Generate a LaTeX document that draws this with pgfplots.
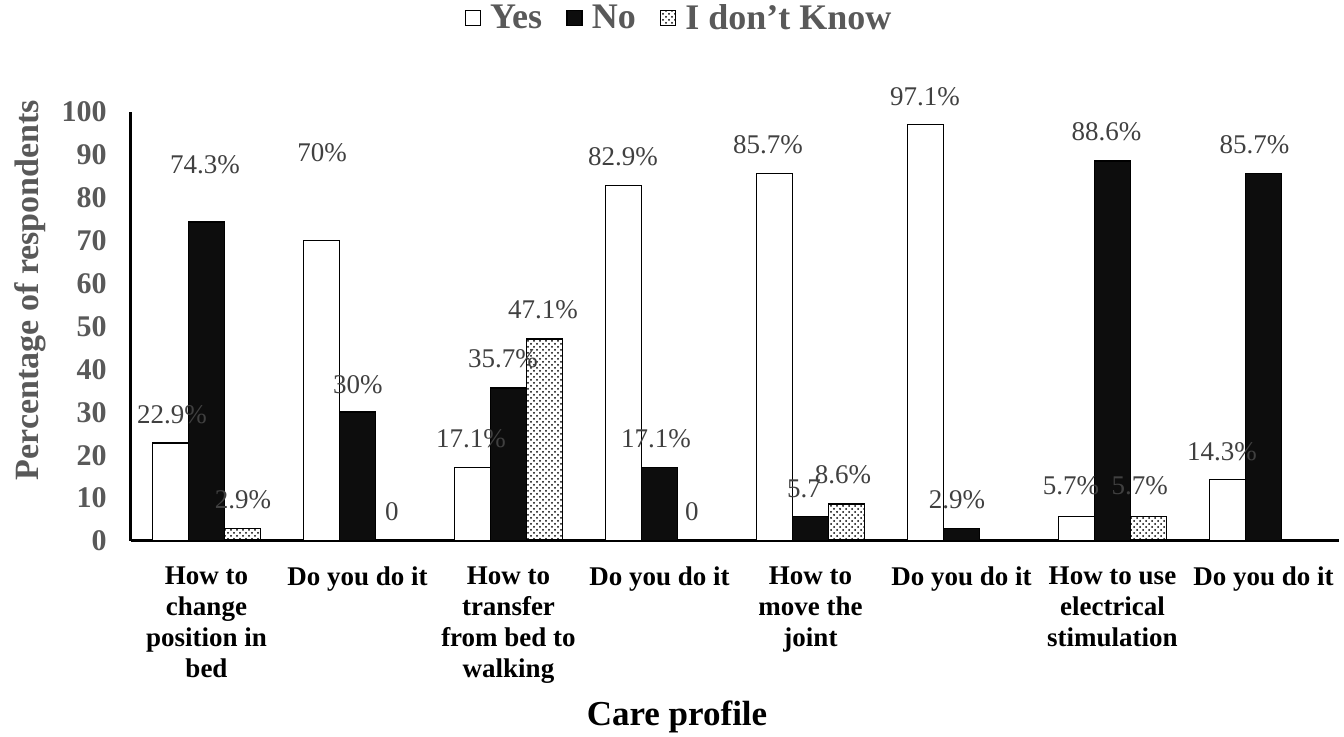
\documentclass[border=0pt]{standalone}
\usepackage{pgfplots}
\pgfplotsset{compat=1.18}
\usepackage{fontspec}
\setmainfont{Liberation Serif}
\usetikzlibrary{patterns}
\definecolor{txtgray}{HTML}{595959}
\definecolor{lblgray}{HTML}{404040}
\definecolor{barblack}{HTML}{0D0D0D}
\begin{document}
\begin{tikzpicture}
\path[use as bounding box] (-65.5pt,-98pt) rectangle (606.5pt,270.5pt);
\begin{axis}[
  at={(0pt,0pt)}, anchor=south west,
  scale only axis,
  width=604pt, height=214.5pt,
  xmin=-0.5, xmax=7.5,
  ymin=0, ymax=100,
  ytick={0,10,...,100},
  xtick={0,...,7},
  xticklabels={How to\\change\\position in\\bed, Do you do it, How to\\transfer\\from bed to\\walking, Do you do it, How to\\move the\\joint, Do you do it, How to use\\electrical\\stimulation, Do you do it},
  axis x line*=bottom,
  axis y line*=left,
  axis line style={line width=1.5pt, -},
  major tick length=0pt,
  clip=false,
  /pgf/number format/assume math mode=true,
  xticklabel style={align=center, font=\bfseries\fontsize{13.5}{15.5}\selectfont, text=black, anchor=north, inner sep=0pt, yshift=-12.5pt},
  yticklabel style={font=\bfseries\fontsize{15}{16}\selectfont, text=txtgray, anchor=east, inner sep=0pt, xshift=-12pt},
  ylabel={Percentage of respondents},
  ylabel style={font=\bfseries\fontsize{17}{19}\selectfont, text=txtgray, at={(axis description cs:-0.0836,0.585)}, anchor=center},
  xlabel={Care profile},
  xlabel style={font=\bfseries\fontsize{17.5}{19}\selectfont, text=black, at={(axis description cs:0.452,-0.41)}, anchor=center},
  legend columns=3,
  legend style={draw=none, fill=none, at={(axis description cs:0.4545,1.219)}, anchor=center,
    font=\bfseries\fontsize{18}{20}\selectfont, text=txtgray,
    /tikz/every odd column/.append style={column sep=2.5pt},
    /tikz/every even column/.append style={column sep=10pt}},
  legend image code/.code={\draw[#1, line width=0.8pt] (0pt,-3.75pt) rectangle (7.5pt,3.75pt);},
]
\addplot[ybar, bar width=0.238, bar shift=-0.238, draw=black, line width=0.8pt, fill=white]
  coordinates {(0,22.9) (1,70) (2,17.1) (3,82.9) (4,85.7) (5,97.1) (6,5.7) (7,14.3)};
\addlegendentry{Yes}
\addplot[ybar, bar width=0.238, bar shift=0, draw=black, line width=0.8pt, fill=barblack]
  coordinates {(0,74.3) (1,30) (2,35.7) (3,17.1) (4,5.7) (5,2.9) (6,88.6) (7,85.7)};
\addlegendentry{No}
\addplot[ybar, bar width=0.238, bar shift=0.238, draw=black, line width=0.8pt, pattern=crosshatch dots]
  coordinates {(0,2.9) (1,0) (2,47.1) (3,0) (4,8.6) (5,0) (6,5.7)};
\addlegendentry{I don’t Know}
\addplot[forget plot, only marks, mark=none, nodes near coords, point meta=explicit symbolic,
  every node near coord/.style={anchor=center, inner sep=0pt, text=lblgray, font=\fontsize{13.5}{15}\selectfont}]
  table[meta=label] {
x y label
-0.228 29.4 {22.9\%}
-0.01 87.6 {74.3\%}
0.242 9.6 {2.9\%}
0.765 90.4 {70\%}
1.003 36.4 {30\%}
1.228 6.8 {0}
1.752 23.8 {17.1\%}
1.964 42.4 {35.7\%}
2.228 53.8 {47.1\%}
2.758 89.5 {82.9\%}
2.977 23.8 {17.1\%}
3.215 6.8 {0}
3.718 92.3 {85.7\%}
3.957 12.1 {5.7}
4.215 15.4 {8.6\%}
4.758 103.5 {97.1\%}
4.97 9.6 {2.9\%}
5.725 13.0 {5.7\%}
5.96 95.3 {88.6\%}
6.18 13.0 {5.7\%}
6.725 20.7 {14.3\%}
6.94 92.3 {85.7\%}
};
\end{axis}
\end{tikzpicture}
\end{document}
